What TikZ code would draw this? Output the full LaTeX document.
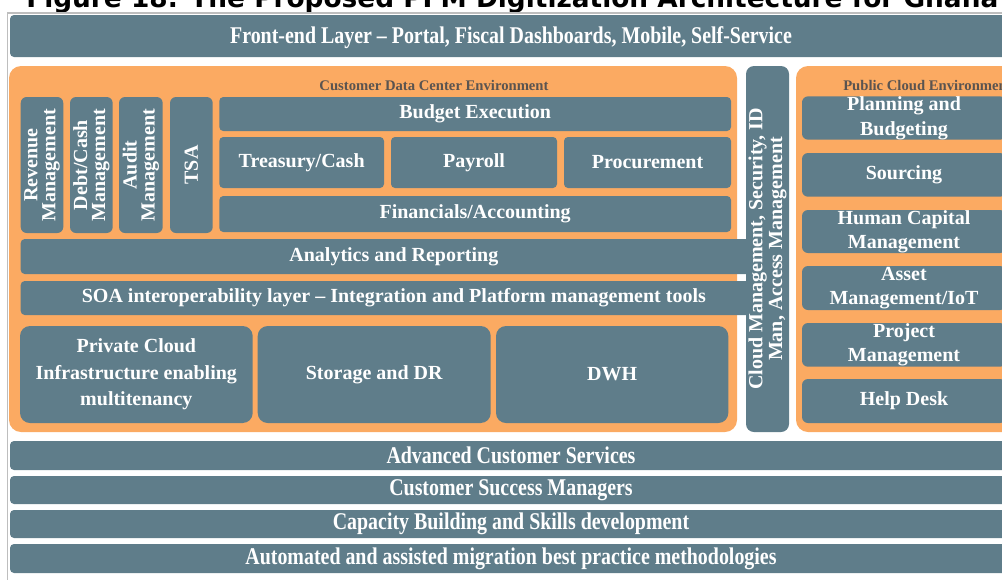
\documentclass[tikz,border=0pt]{standalone}
\usepackage{fontspec}
\setmainfont{Liberation Serif}
\newfontfamily\condfont[FakeStretch=0.83]{Liberation Serif}
\newfontfamily\titlefont{DejaVu Sans}
\definecolor{slate}{RGB}{95,125,138}
\definecolor{peach}{RGB}{251,170,98}
\definecolor{labelgrey}{RGB}{90,84,80}
\definecolor{framegrey}{RGB}{190,190,190}
\newcommand\mkbox[7][]{\node[box,#1,minimum width={(#5-#3)*0.75pt},minimum height={(#6-#4)*0.75pt}] (#2) at ({(#3+#5)/2},{(#4+#6)/2}) {#7};}
\begin{document}
\begin{tikzpicture}[x=0.75pt,y=-0.75pt,
  box/.style={fill=slate, draw=none, rounded corners=3pt, inner sep=0pt, text=white, align=center, font=\bfseries\fontsize{15}{18}\selectfont},
  bar/.style={font=\condfont\bfseries\fontsize{18}{20}\selectfont},
  bartext/.style={text=white, inner sep=0pt, font=\condfont\bfseries\fontsize{18}{20}\selectfont},
  env/.style={fill=peach, rounded corners=9pt},
  envlbl/.style={text=labelgrey, inner sep=0pt, font=\bfseries\fontsize{11}{12}\selectfont},
  vlbl/.style={rotate=90, text=white, align=center, inner sep=0pt, font=\bfseries\fontsize{15}{13.5}\selectfont},
  big/.style={rounded corners=7.5pt},
  pub/.style={rounded corners=4.5pt}]
\useasboundingbox (0,0) rectangle (1002,579);
\clip (0,0) rectangle (1002,579);
% title (cut by the top edge)
\node[anchor=base west, inner sep=0pt] (title) at (26,7.5) {\resizebox{729pt}{!}{\titlefont\bfseries Figure 18: The Proposed PFM Digitization Architecture for Ghana}};
% frame lines
\coordinate (fa) at (1010,13);
\coordinate (fb) at (7.5,13);
\coordinate (fc) at (7.5,590);
\draw[framegrey, line width=1.1pt] (fa) -- (fb) -- (fc);
% front-end
\mkbox{front}{10}{15}{1012}{57}{}
\node[bartext] (frontt) at (511,38) {Front-end Layer – Portal, Fiscal Dashboards, Mobile, Self-Service};
% environments
\mkbox[env,fill=peach]{cdc}{9}{66}{737}{432}{}
\node[envlbl] (cdclbl) at (434,85) {Customer Data Center Environment};
\mkbox[env,fill=peach]{pce}{796}{66}{1014}{432}{}
\node[envlbl, anchor=west] (pcelbl) at (843,85) {Public Cloud Environment};
% left vertical boxes
\mkbox[rounded corners=4.5pt]{rev}{20.7}{97}{63.3}{233}{}
\mkbox[rounded corners=4.5pt]{debt}{70}{97}{112.7}{233}{}
\mkbox[rounded corners=4.5pt]{audit}{119}{97}{162.7}{233}{}
\mkbox[rounded corners=4.5pt]{tsa}{170}{97}{212.7}{233}{}
\node[vlbl] (revt) at (rev) {Revenue\\Management};
\node[vlbl] (debtt) at (debt) {Debt/Cash\\Management};
\node[vlbl] (auditt) at (audit) {Audit\\Management};
\node[vlbl] (tsat) at (tsa) {TSA};
% core modules
\mkbox{budget}{219.3}{97}{731}{131}{Budget Execution}
\mkbox{treas}{219.3}{137}{384}{188}{Treasury/Cash}
\mkbox{payroll}{391}{137}{557}{188}{Payroll}
\mkbox{proc}{564}{137}{731}{188}{Procurement}
\mkbox{fin}{219.3}{196}{731}{232}{Financials/Accounting}
\mkbox{analytics}{20.7}{239}{767}{274}{Analytics and Reporting}
\mkbox{soa}{20.7}{281}{767}{315}{SOA interoperability layer – Integration and Platform management tools}
\mkbox[big,font=\bfseries\fontsize{15}{20}\selectfont]{priv}{20}{326}{252.7}{423}{Private Cloud\\Infrastructure enabling\\multitenancy}
\mkbox[big]{stor}{257.7}{326}{490.7}{423}{Storage and DR}
\mkbox[big]{dwh}{496}{326}{728.3}{423}{DWH}
% cloud management vertical bar
\mkbox[rounded corners=6pt]{cloud}{746}{66}{789}{432}{}
\node[vlbl, font=\bfseries\fontsize{15}{14.8}\selectfont] (cloudt) at (cloud) {Cloud Management, Security, ID\\Man, Access Management};
% public cloud modules
\mkbox[pub,font=\bfseries\fontsize{15}{18.75}\selectfont]{plan}{802}{97}{1006}{139}{Planning and\\Budgeting}
\mkbox[pub]{sourcing}{802}{153}{1006}{196.7}{Sourcing}
\mkbox[pub,font=\bfseries\fontsize{15}{18.2}\selectfont]{hcm}{802}{210}{1006}{253}{Human Capital\\Management}
\mkbox[pub,font=\bfseries\fontsize{15}{18.5}\selectfont]{asset}{802}{266}{1006}{310}{Asset\\Management/IoT}
\mkbox[pub,font=\bfseries\fontsize{15}{18.2}\selectfont]{proj}{802}{323}{1006}{366.7}{Project\\Management}
\mkbox[pub]{help}{802}{379}{1006}{423}{Help Desk}
% bottom bars
\mkbox[bar]{adv}{10}{441}{1012}{470}{Advanced Customer Services}
\mkbox[bar]{csm}{10}{476}{1012}{504}{Customer Success Managers}
\mkbox[bar]{cap}{10}{510}{1012}{538}{Capacity Building and Skills development}
\mkbox[bar]{mig}{10}{544}{1012}{573}{Automated and assisted migration best practice methodologies}
\end{tikzpicture}
\end{document}
